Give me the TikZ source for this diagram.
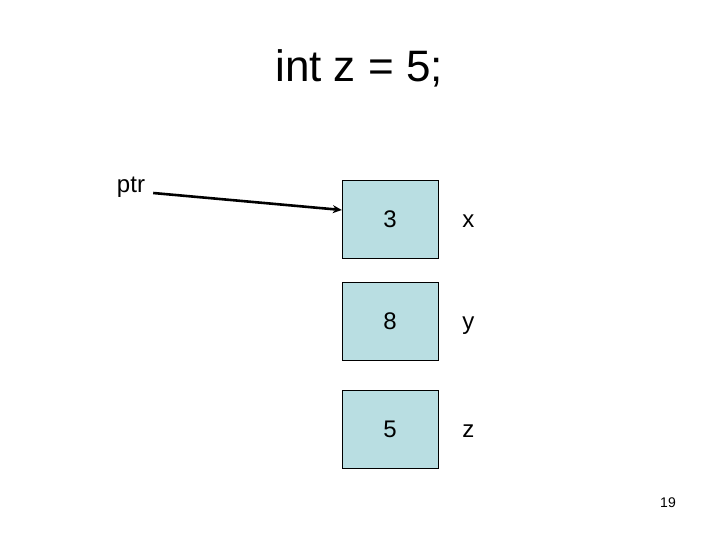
\documentclass[tikz,border=0pt]{standalone}
\usepackage{fontspec}
\setmainfont{Liberation Sans}
\usetikzlibrary{arrows.meta,positioning}

\begin{document}
\begin{tikzpicture}[
  x=1pt, y=-1pt,
  cell/.style={draw, fill=cellblue, minimum width=96pt, minimum height=78pt,
               font=\fontsize{24}{28}\selectfont, inner sep=0pt},
  lab/.style={font=\fontsize{24}{28}\selectfont, inner sep=0pt},
  arr/.style={-{Stealth[length=9pt,width=8pt]}, line width=2.6pt}
]
\definecolor{cellblue}{HTML}{B9DEE2}
\useasboundingbox (0,0) rectangle (720,540);
\node[font=\fontsize{44}{50}\selectfont] (title) at (359,68) {int z = 5;};
\node[lab] (ptr) at (131,187) {ptr};
\node[cell] (cx) at (390,219) {3};
\node[cell] (cy) at (390,321.5) {8};
\node[cell] (cz) at (390,429) {5};
% names beside the cells, on the same baseline as the values
\node[lab, anchor=base west] (nx) at ([xshift=24pt]cx.base east) {x};
\node[lab, anchor=base west] (ny) at ([xshift=24pt]cy.base east) {y};
\node[lab, anchor=base west] (nz) at ([xshift=24pt]cz.base east) {z};
\node[font=\fontsize{14}{16}\selectfont] (page) at (668,503) {19};
\draw[arr] (ptr.east) ++(8,6) coordinate (ptrstart) -- (cx.west |- 0,210);
\end{tikzpicture}
\end{document}
